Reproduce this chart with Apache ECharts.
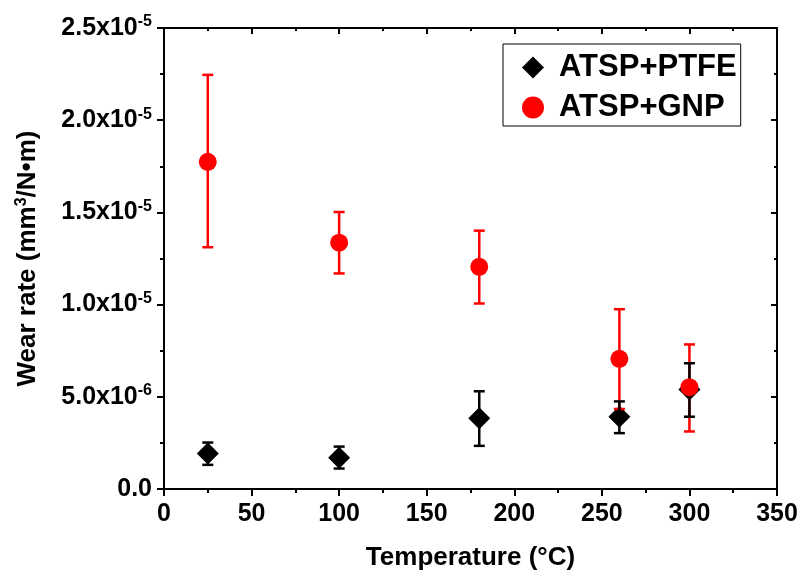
<!DOCTYPE html>
<html>
<head>
<meta charset="utf-8">
<script src="https://cdn.jsdelivr.net/npm/echarts@6/dist/echarts.min.js"></script>
<style>html,body{margin:0;padding:0;background:#fff}#c{width:802px;height:571px}</style>
</head>
<body>
<div id="c"></div>
<script>
// ---- data ----
var temperatures = [25, 100, 180, 260, 300];
var ptfeRate  = [1.92e-6, 1.70e-6, 3.83e-6, 3.92e-6, 5.39e-6];
var ptfeLow   = [1.31e-6, 1.11e-6, 2.34e-6, 3.03e-6, 3.92e-6];
var ptfeHigh  = [2.52e-6, 2.30e-6, 5.30e-6, 4.75e-6, 6.82e-6];
var gnpRate   = [1.774e-5, 1.336e-5, 1.205e-5, 7.06e-6, 5.52e-6];
var gnpLow    = [1.311e-5, 1.169e-5, 1.006e-5, 4.34e-6, 3.12e-6];
var gnpHigh   = [2.246e-5, 1.502e-5, 1.401e-5, 9.75e-6, 7.84e-6];
var yTickMantissa = ['0.0', '5.0', '1.0', '1.5', '2.0', '2.5'];
var yTickExponent = ['', '-6', '-5', '-5', '-5', '-5'];
var seriesNames = ['ATSP+PTFE', 'ATSP+GNP'];

var FONT = 'Liberation Sans, Arial, sans-serif';

function pts(xs, ys) { return xs.map(function (x, i) { return [x, ys[i]]; }); }
function errs(xs, lo, hi) { return xs.map(function (x, i) { return [x, lo[i], hi[i]]; }); }

function errRender(color) {
  return function (params, api) {
    var x = api.value(0);
    var p1 = api.coord([x, api.value(1)]);
    var p2 = api.coord([x, api.value(2)]);
    var hw = 5.5;
    var st = { stroke: color, lineWidth: 2.5 };
    return {
      type: 'group',
      children: [
        { type: 'line', shape: { x1: p1[0], y1: p1[1], x2: p2[0], y2: p2[1] }, style: st },
        { type: 'line', shape: { x1: p1[0] - hw, y1: p1[1], x2: p1[0] + hw, y2: p1[1] }, style: st },
        { type: 'line', shape: { x1: p2[0] - hw, y1: p2[1], x2: p2[0] + hw, y2: p2[1] }, style: st }
      ]
    };
  };
}

var chart = echarts.init(document.getElementById('c'));
var axisLine = { show: true, onZero: false, lineStyle: { color: '#000', width: 2 } };
var tickStyle = { color: '#000', width: 2 };

chart.setOption({
  animation: false,
  backgroundColor: '#fff',
  grid: { left: 164, right: 25, top: 28, bottom: 82, containLabel: false, outerBoundsMode: 'none' },
  legend: {
    left: 503, top: 44,
    orient: 'vertical',
    data: [{ name: seriesNames[0], icon: 'diamond' }, { name: seriesNames[1], icon: 'circle' }],
    itemWidth: 22, itemHeight: 22, itemGap: 9,
    padding: [8, 4, 3, 19],
    borderColor: '#000', borderWidth: 1,
    textStyle: { fontFamily: FONT, fontWeight: 'bold', fontSize: 31, color: '#000', lineHeight: 30, padding: [0, 0, 0, 10] }
  },
  xAxis: [{
    type: 'value', min: 0, max: 350, interval: 50,
    name: 'Temperature (°C)', nameLocation: 'middle', nameGap: 56,
    nameTextStyle: { fontFamily: FONT, fontWeight: 'bold', fontSize: 26, color: '#000' },
    axisLine: axisLine,
    axisTick: { show: true, inside: false, length: 7, lineStyle: tickStyle },
    minorTick: { show: true, splitNumber: 2, length: 4, lineStyle: tickStyle },
    axisLabel: { fontFamily: FONT, fontWeight: 'bold', fontSize: 25, color: '#000', margin: 13 },
    splitLine: { show: false }
  }, {
    type: 'value', min: 0, max: 350, interval: 50, position: 'top',
    axisLine: axisLine,
    axisTick: { show: true, inside: true, length: 6, lineStyle: tickStyle },
    minorTick: { show: true, splitNumber: 2, length: 3, lineStyle: tickStyle },
    axisLabel: { show: false }, splitLine: { show: false }
  }],
  yAxis: [{
    type: 'value', min: 0, max: 2.5e-5, interval: 5e-6,
    name: '{a|Wear rate (mm}{s|3}{a|/N•m)}', nameLocation: 'middle', nameGap: 122, nameRotate: 90,
    nameTextStyle: {
      rich: {
        a: { fontFamily: FONT, fontWeight: 'bold', fontSize: 26, color: '#000' },
        s: { fontFamily: FONT, fontWeight: 'bold', fontSize: 16, color: '#000', verticalAlign: 'bottom', padding: [0, 0, 12, 0] }
      }
    },
    axisLine: axisLine,
    axisTick: { show: true, inside: false, length: 7, lineStyle: tickStyle },
    minorTick: { show: true, splitNumber: 2, length: 4, lineStyle: tickStyle },
    axisLabel: {
      margin: 12,
      formatter: function (v) {
        var i = Math.round(v / 5e-6);
        if (!yTickExponent[i]) return '{m|' + yTickMantissa[i] + '}';
        return '{m|' + yTickMantissa[i] + 'x10}{e|' + yTickExponent[i] + '}';
      },
      rich: {
        m: { fontFamily: FONT, fontWeight: 'bold', fontSize: 25, color: '#000' },
        e: { fontFamily: FONT, fontWeight: 'bold', fontSize: 16, color: '#000', verticalAlign: 'bottom', padding: [0, 0, 12, 0] }
      }
    },
    splitLine: { show: false }
  }, {
    type: 'value', min: 0, max: 2.5e-5, interval: 5e-6, position: 'right',
    axisLine: axisLine,
    axisTick: { show: true, inside: true, length: 6, lineStyle: tickStyle },
    minorTick: { show: true, splitNumber: 2, length: 3, lineStyle: tickStyle },
    axisLabel: { show: false }, splitLine: { show: false }
  }],
  series: [
    {
      name: seriesNames[0], type: 'scatter', symbol: 'diamond', symbolSize: 22,
      itemStyle: { color: '#000', opacity: 1 }, z: 2,
      data: pts(temperatures, ptfeRate)
    },
    {
      name: 'gnpErr', type: 'custom', z: 3, renderItem: errRender('#ff0000'),
      encode: { x: 0, y: [1, 2] }, data: errs(temperatures, gnpLow, gnpHigh)
    },
    {
      name: 'ptfeErr', type: 'custom', z: 4, renderItem: errRender('#000'),
      encode: { x: 0, y: [1, 2] }, data: errs(temperatures, ptfeLow, ptfeHigh)
    },
    {
      name: seriesNames[1], type: 'scatter', symbol: 'circle', symbolSize: 18,
      itemStyle: { color: '#ff0000', opacity: 1 }, z: 5,
      data: pts(temperatures, gnpRate)
    }
  ]
});
</script>
</body>
</html>
